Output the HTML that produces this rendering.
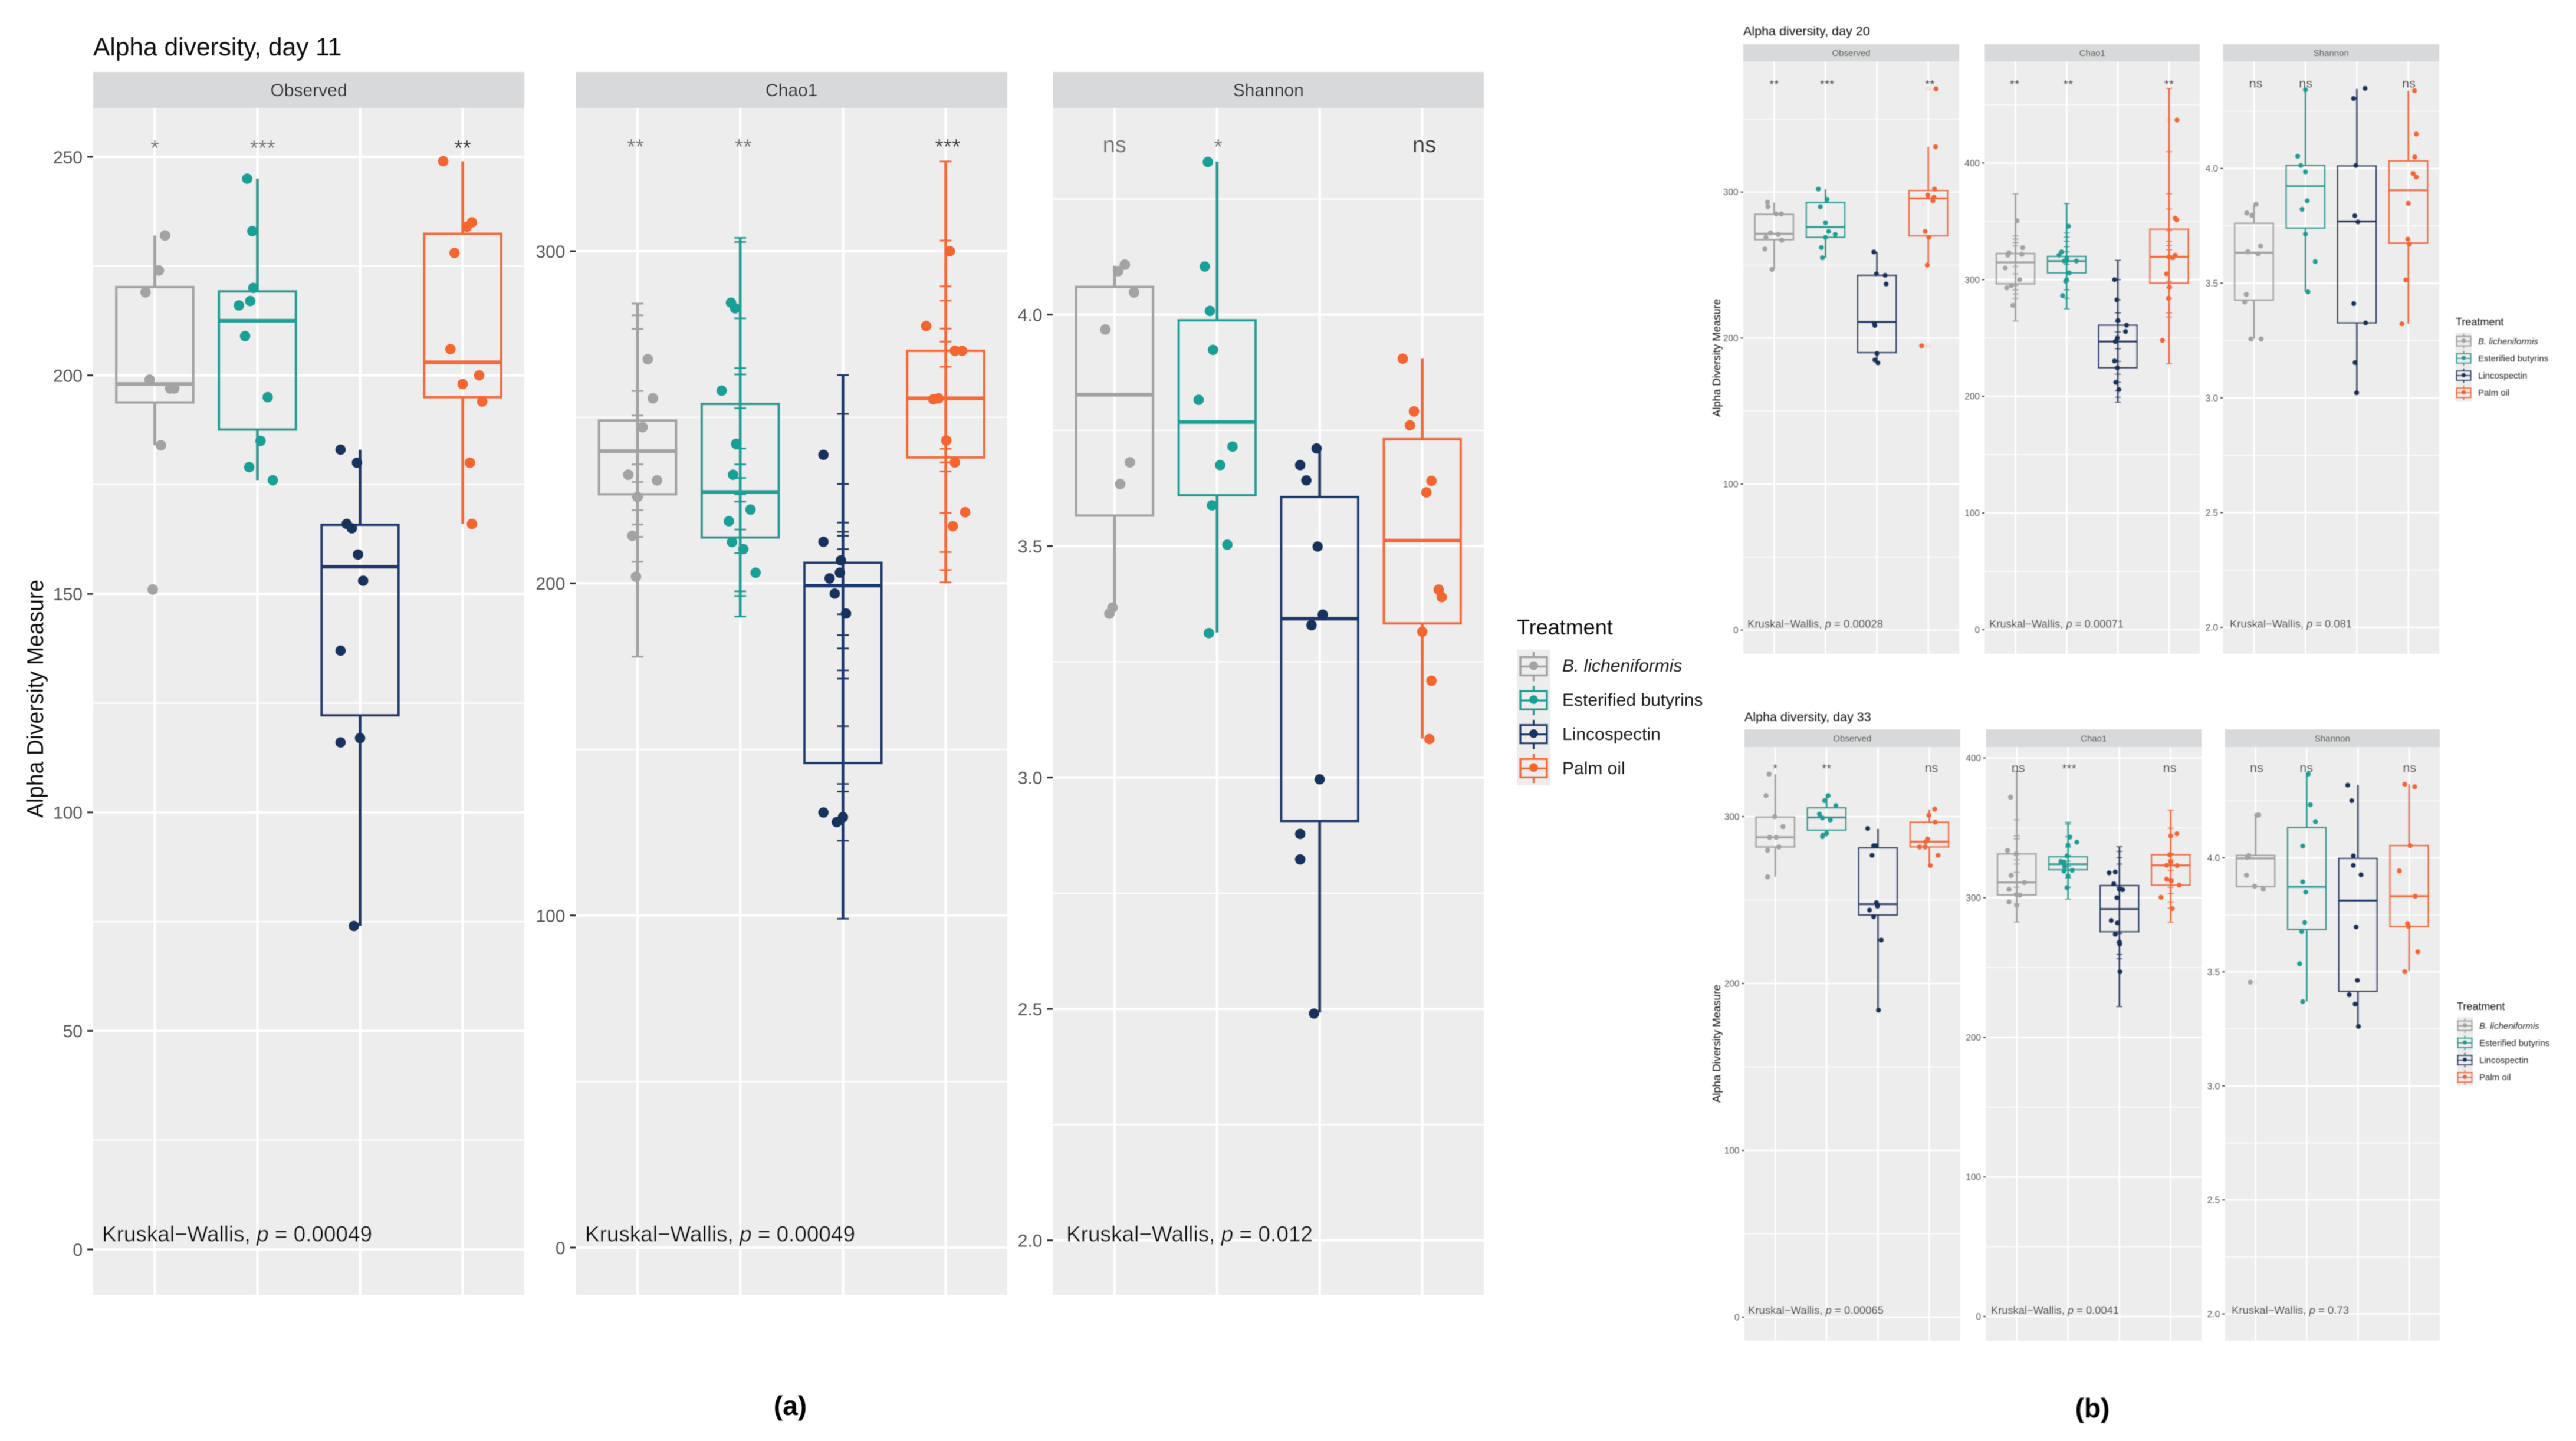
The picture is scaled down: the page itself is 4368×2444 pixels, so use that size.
<!DOCTYPE html>
<html lang="en">
<head>
<meta charset="utf-8">
<title>Alpha diversity boxplots, days 11, 20 and 33</title>
<style>
html,body{margin:0;padding:0;background:#fff;}
svg{display:block;}
text{font-family:"Liberation Sans",sans-serif;}
</style>
</head>
<body>
<svg id="chart" xmlns="http://www.w3.org/2000/svg" width="4368" height="2444" viewBox="0 0 4368 2444">
  <defs>
    <filter id="soft-a" filterUnits="userSpaceOnUse" x="0" y="0" width="2900" height="2444"><feGaussianBlur stdDeviation="0.6"/></filter>
    <filter id="soft-b" filterUnits="userSpaceOnUse" x="2850" y="0" width="1518" height="2444"><feGaussianBlur stdDeviation="0.8"/></filter>
  </defs>
  <rect x="0" y="0" width="4368" height="2444" fill="#ffffff"/>
  <g id="fig-a" filter="url(#soft-a)">
    <text x="158" y="94" font-size="42.5" fill="#111">Alpha diversity, day 11</text>
    <text transform="translate(73,1185) rotate(-90)" text-anchor="middle" font-size="39" textLength="404" lengthAdjust="spacingAndGlyphs" fill="#111">Alpha Diversity Measure</text>
    <text x="2572" y="1076" font-size="36" fill="#111">Treatment</text>
    <text x="2649" y="1139" font-size="30" font-style="italic" fill="#1a1a1a">B. licheniformis</text>
    <text x="2649" y="1197" font-size="30" fill="#1a1a1a">Esterified butyrins</text>
    <text x="2649" y="1255" font-size="30" fill="#1a1a1a">Lincospectin</text>
    <text x="2649" y="1313" font-size="30" fill="#1a1a1a">Palm oil</text>
    <text x="1340" y="2400" text-anchor="middle" font-size="46" font-weight="bold" fill="#000">(a)</text>
  </g>
  <g id="fig-b" filter="url(#soft-b)">
    <text x="2956" y="60" font-size="21.5" fill="#111">Alpha diversity, day 20</text>
    <text x="2958" y="1223" font-size="21.5" fill="#111">Alpha diversity, day 33</text>
    <text transform="translate(2917,607) rotate(-90)" text-anchor="middle" font-size="18" textLength="200" lengthAdjust="spacingAndGlyphs" fill="#111">Alpha Diversity Measure</text>
    <text transform="translate(2917,1770) rotate(-90)" text-anchor="middle" font-size="18" textLength="200" lengthAdjust="spacingAndGlyphs" fill="#111">Alpha Diversity Measure</text>
    <text x="4164" y="552" font-size="18" fill="#111">Treatment</text>
    <text x="4202" y="584" font-size="15" font-style="italic" fill="#222">B. licheniformis</text>
    <text x="4202" y="613" font-size="15" fill="#222">Esterified butyrins</text>
    <text x="4202" y="642" font-size="15" fill="#222">Lincospectin</text>
    <text x="4202" y="671" font-size="15" fill="#222">Palm oil</text>
    <text x="4166" y="1713" font-size="18" fill="#111">Treatment</text>
    <text x="4204" y="1745" font-size="15" font-style="italic" fill="#222">B. licheniformis</text>
    <text x="4204" y="1774" font-size="15" fill="#222">Esterified butyrins</text>
    <text x="4204" y="1803" font-size="15" fill="#222">Lincospectin</text>
    <text x="4204" y="1832" font-size="15" fill="#222">Palm oil</text>
    <text x="3548" y="2404" text-anchor="middle" font-size="46" font-weight="bold" fill="#000">(b)</text>
  </g>
</svg>
<script>
// ---------- shared values ----------
const categories = ['B. licheniformis', 'Esterified butyrins', 'Lincospectin', 'Palm oil'];
const categorySlugs = ['b-licheniformis', 'esterified-butyrins', 'lincospectin', 'palm-oil'];
const seriesColors = ['#a3a3a3', '#1ba098', '#1c3a70', '#f56a35'];
const dotColors = ['#a3a3a3', '#17a098', '#12305f', '#f5652e'];
const metrics = ['Observed', 'Chao1', 'Shannon'];

// ---------- tick labels ----------
const d11ObsTicks = ['0', '50', '100', '150', '200', '250'];
const d11ChaoTicks = ['0', '100', '200', '300'];
const shannonTicks = ['2.0', '2.5', '3.0', '3.5', '4.0'];
const d20ObsTicks = ['0', '100', '200', '300'];
const d20ChaoTicks = ['0', '100', '200', '300', '400'];
const d33ObsTicks = ['0', '100', '200', '300'];
const d33ChaoTicks = ['0', '100', '200', '300', '400'];

// ---------- day 11 ----------  box rows: low whisker, q1, median, q3, high whisker
const d11ObsBox = [[184,193.8,198,220.2,232],[176,187.6,212.5,219.2,245],[74,122.2,156.2,165.8,183],[166,195,203,232.4,249]];
const d11ObsVals = [[232,224,219,199,197,197,184,151],[245,233,220,217,216,209,195,185,179,176],[183,180,166,165,159,153,137,117,116,74],[249,235,234,228,206,200,198,194,180,166]];
const d11ObsJit = [[.1,.04,-.09,-.05,.15,.19,.06,-.02],[-.1,-.05,-.04,-.07,-.18,-.12,.1,.03,-.08,.15],[-.19,-.03,-.13,-.08,-.02,.03,-.19,0,-.19,-.06],[-.19,.09,.04,-.08,-.12,.16,0,.19,.07,.09]];
const d11ObsSig = ['*','***','','**'];
const d11ObsShift = [0,.05,0,0];

const d11ChaoBox = [[177.9,226.8,239.8,249,284.2],[190,213.8,227.5,254,304],[99,145.9,199.3,206.2,262.7],[200.3,237.9,255.7,270,327]];
const d11ChaoVals = [[267.5,255.7,247,232.7,231,226,214.3,202],[284.5,282.8,258,242,232.7,222.2,218.7,212.4,210.3,203.2],[238.7,212.5,206.9,203.2,201.5,196.9,190.9,131,129.6,128.1],[300,277.5,270,270,255.4,255.7,243,236.4,221.4,217.2]];
const d11ChaoJit = [[.1,.15,.05,-.09,.19,0,-.05,-.015],[-.09,-.05,-.18,-.04,-.07,.1,-.11,-.08,.03,.15],[-.19,-.19,-.02,-.03,-.13,-.08,.03,-.19,0,-.06],[.04,-.19,.09,.16,-.12,-.07,.006,.09,.19,.07]];
const d11ChaoErr = [[284.2,280.7,276.6,257.9,250.5,235.8,230.5,226,222,217.7,214,206.5,177.9],[304,302.8,279.8,264.8,262.9,252.7,240.6,235.8,231.7,226.8,224.6,216.2,209.1,197.6,196.2,190],[262.7,251,229.9,218.3,215.5,214.3,210.3,190.7,184.4,180.4,173.8,171.3,157,139.6,137.3,122.5,99],[327,303.2,289.4,285.1,276.7,272.8,270,265.2,240.5,236.4,233.7,221.2,209.4,204,200.3]];
const d11ChaoSig = ['**','**','','***'];
const d11ChaoShift = [-.02,.03,0,.02];

const d11ShanBox = [[3.358,3.566,3.827,4.06,4.106],[3.313,3.61,3.768,3.988,4.331],[2.492,2.906,3.343,3.606,3.711],[3.084,3.333,3.512,3.731,3.905]];
const d11ShanVals = [[4.108,4.094,4.048,3.968,3.681,3.634,3.367,3.354],[4.33,4.104,4.008,3.924,3.816,3.715,3.675,3.588,3.503,3.312],[3.711,3.675,3.642,3.499,3.352,3.329,2.996,2.878,2.823,2.49],[3.905,3.791,3.761,3.641,3.616,3.406,3.39,3.315,3.209,3.083]];
const d11ShanJit = [[.1,.035,.19,-.09,.15,.055,-.02,-.05],[-.09,-.12,-.07,-.04,-.18,.15,.03,-.05,.1,-.08],[-.03,-.19,-.13,-.02,.03,-.08,0,-.19,-.19,-.055],[-.19,-.08,-.12,.09,.04,.16,.19,0,.09,.07]];
const d11ShanSig = ['ns','*','','ns'];
const d11ShanShift = [0,.01,0,.02];

// ---------- day 20 ----------
const d20ObsBox = [[247.2,267.4,271.4,284.7,292.8],[255,269,276,292.8,302],[183,190,211,243,259],[250,270,295.7,301,331]];
const d20ObsVals = [[293,290,285,285,272,271,269,267,261,247],[302,295,290,279,273,271,269,262,255],[259,244,243,237,210,208.6,189.5,185,183],[370.7,331,302,298,296.5,294,273,269,250,194.7]];
const d20ObsJit = [[-.13,-.12,.04,.14,-.07,.08,-.16,.15,-.18,-.04],[-.14,.03,-.1,0,.06,.19,0,-.08,-.06],[-.06,-.01,.16,.18,-.05,-.04,0,-.04,.02],[.15,.14,.12,-.01,.11,.09,-.06,.01,-.02,-.13]];
const d20ObsOut = [[],[],[],[370.7,194.7]];
const d20ObsSig = ['**','***','','**'];
const d20ObsShift = [0,.03,0,.03];

const d20ChaoBox = [[264.6,296.4,314.8,322.4,373.6],[275,305.8,315.9,319.9,365.3],[195,224.5,247,261,316.6],[228,297,319.5,343.3,463.9]];
const d20ChaoVals = [[350.5,327.4,323,321,321.7,310,300,295,293,278],[345.8,323.8,321,318,316,316,316,305.8,300,298.6,286.3],[300,282.7,265,261,255.6,250,247,230.3,224.5,212,205.8],[436.8,352.7,351.3,321,318.8,319.5,305,293.5,284,248]];
const d20ChaoJit = [[.03,.14,-.13,-.15,.125,-.2,.08,-.08,-.17,-.05],[.035,-.1,-.15,0,0,-.05,.19,.05,0,-.02,-.08],[-.065,-.02,0,.17,.15,-.01,-.05,-.065,-.01,-.04,.02],[.155,.12,.15,.12,.07,0,-.05,.01,-.01,-.13]];
const d20ChaoErr = [[373.6,337.5,334.7,331.8,328.9,322.4,311.2,305,295,291.3,287.7,284,264.6],[365.3,340,336.5,332.9,328.2,323.8,316.6,313,305.8,298.6,291.3,284.1,275],[316.6,300,282.7,271.5,264.3,255.2,246.9,240.8,230,219,212,204.7,199.3,195],[463.9,409.7,373.6,360.6,341.9,332.9,329.2,325.6,298.6,293,284,271.5,267.9,228]];
const d20ChaoOut = [[],[],[],[436.8]];
const d20ChaoSig = ['**','**','','**'];
const d20ChaoShift = [-.02,.03,0,0];

const d20ShanBox = [[3.257,3.426,3.633,3.761,3.844],[3.462,3.74,3.923,4.013,4.343],[3.022,3.327,3.769,4.011,4.347],[3.323,3.675,3.905,4.033,4.339]];
const d20ShanVals = [[3.844,3.806,3.796,3.662,3.637,3.628,3.451,3.418,3.257,3.257],[4.343,4.053,4.013,3.985,3.859,3.822,3.714,3.594,3.462],[4.349,4.305,4.013,3.794,3.767,3.411,3.327,3.154,3.022],[4.339,4.15,4.05,3.978,3.963,3.848,3.692,3.67,3.514,3.323]];
const d20ShanJit = [[.04,-.14,-.04,.13,-.12,.08,-.15,-.18,-.06,.14],[0,-.15,-.09,0,.035,-.065,0,.19,.05],[.16,-.065,-.02,-.04,.02,-.06,.17,-.035,-.005],[.12,.155,.125,.095,.155,0,-.01,.02,-.05,-.125]];
const d20ShanSig = ['ns','ns','','ns'];
const d20ShanShift = [.035,.005,0,.01];

// ---------- day 33 ----------
const d33ObsBox = [[264,281.8,287.6,299.7,325.5],[288,291.9,299.5,305.3,312.6],[184,241,247.5,281.3,292.7],[270.7,281.8,285,296.7,304.3]];
const d33ObsVals = [[325.5,312.6,300,294,287.6,287.6,279.8,281.8,263.9],[312.6,309.6,306.6,301.5,299.2,298,290,289,288],[292.9,282.6,282.6,276.8,248.5,246.3,244,240,226,184],[304.5,300.8,296.7,286.6,284.9,281.8,281.8,276.8,270.7]];
const d33ObsJit = [[-.12,-.18,-.01,.15,-.11,.02,-.15,.07,-.15],[.03,-.04,.18,-.14,-.08,.07,0,-.07,-.08],[-.2,-.085,-.04,-.115,-.03,-.01,-.165,-.085,.065,.01],[.105,-.01,.115,-.035,-.07,-.19,-.08,.17,.02]];
const d33ObsSig = ['*','**','','ns'];
const d33ObsShift = [0,0,0,.04];

const d33ChaoBox = [[282.5,302,310.9,331.4,390.5],[299,320,324,329.3,354],[222,275.6,291.9,308.7,336.5],[282.5,309,323.2,330.8,362.7]];
const d33ChaoVals = [[372,333.8,331.4,316,310.9,306,302,301.8,297,294.6],[343.4,339.8,337.7,330,326,325.6,322,319.6,319,315.7,307.2],[317.8,318.4,310,306,305.7,300,283.7,282,273.8,268.3,266.8,246.9],[345.8,344.3,330.8,325.6,323.2,323,313.3,312,309,300.3,292.2]];
const d33ChaoJit = [[-.12,-.18,-.01,-.11,.15,-.15,0,.06,-.15,0],[.035,.17,0,-.02,-.14,-.08,-.07,.08,-.08,0,-.02],[-.2,-.08,-.11,0,.065,-.05,-.16,-.04,-.08,0,.005,.01],[.12,0,-.02,0,-.08,.125,-.08,.01,.165,-.19,.03]];
const d33ChaoErr = [[390.5,355.8,344.3,342.2,331,327.1,324.1,318.1,310.6,307.5,303,295.5,282.5],[354,352.8,343.7,336.2,330.2,326.2,322.6,319.6,314.2,307.5,299],[336.5,333.2,328.6,324.1,307.5,274.4,267.7,259.3,256.3,222],[362.7,349.8,331.7,327.1,319.6,313.6,307.5,303,297,292.5,282.5]];
const d33ChaoSig = ['ns','***','','ns'];
const d33ChaoShift = [.03,.02,0,-.02];

const d33ShanBox = [[3.874,3.874,3.998,4.011,4.188],[3.37,3.686,3.873,4.133,4.367],[3.261,3.415,3.813,3.998,4.32],[3.503,3.699,3.832,4.054,4.323]];
const d33ShanVals = [[4.187,4.188,4.011,4.002,3.924,3.876,3.863,3.455],[4.367,4.233,4.159,4.052,3.895,3.85,3.717,3.677,3.536,3.37],[4.319,4.251,4.009,3.967,3.926,3.697,3.463,3.4,3.359,3.261],[4.323,4.312,4.054,3.943,3.832,3.712,3.699,3.588,3.501]];
const d33ShanJit = [[.025,.06,-.135,-.16,-.18,-.02,.15,-.105],[.03,.07,.17,-.08,-.08,-.02,-.04,-.1,-.14,-.08],[-.2,-.12,-.09,-.09,.06,-.035,-.01,-.17,-.055,.01],[-.085,.11,.02,-.19,.12,-.03,-.01,.17,-.085]];
const d33ShanOut = [[3.455],[],[],[]];
const d33ShanSig = ['ns','ns','','ns'];
const d33ShanShift = [.02,-.01,0,.01];

// ---------- printed p values ----------
const pValues = ['0.00049','0.00049','0.012','0.00028','0.00071','0.081','0.00065','0.0041','0.73'];

// ---------- render styles ----------
const bigStyle = {tick:30,strip:30,kw:37,sig:37,gridMajor:4.2,gridMinor:2.2,box:4.2,median:6.5,whisker:5,err:3.2,errHalf:10,dot:9,tickLen:10,tickW:3,labelGap:8};
const smallStyle = {tick:15.4,strip:15,kw:18.5,sig:21,gridMajor:2.6,gridMinor:1.4,box:2.6,median:3.6,whisker:3,err:1.9,errHalf:5.2,dot:4.4,tickLen:4.5,tickW:1.8,labelGap:4};

// ---------- panel layouts (frames and axis calibration) ----------
const panels = [
  {id:'day-11-observed',g:'fig-a',s:bigStyle,m:0,x:[158,889],yy:[122,183,2196],cal:[0,2119,250,266],ticks:d11ObsTicks,box:d11ObsBox,vals:d11ObsVals,jit:d11ObsJit,sig:d11ObsSig,shift:d11ObsShift,sigY:243,nsY:248,sigCol:['#777','#777','#777','#333'],p:0,kw:[173,2092,458]},
  {id:'day-11-chao1',g:'fig-a',s:bigStyle,m:1,x:[976.5,1708],yy:[122,183,2196],cal:[0,2116,300,426],ticks:d11ChaoTicks,box:d11ChaoBox,vals:d11ChaoVals,jit:d11ChaoJit,err:d11ChaoErr,sig:d11ChaoSig,shift:d11ChaoShift,sigY:241,nsY:248,sigCol:['#777','#777','#777','#333'],p:1,kw:[992,2092,458]},
  {id:'day-11-shannon',g:'fig-a',s:bigStyle,m:2,x:[1785.5,2516],yy:[122,183,2196],cal:[2,2103.6,4,533.7],ticks:shannonTicks,box:d11ShanBox,vals:d11ShanVals,jit:d11ShanJit,sig:d11ShanSig,shift:d11ShanShift,sigY:241,nsY:248,sigCol:['#777','#777','#777','#333'],p:2,kw:[1808,2092,418]},
  {id:'day-20-observed',g:'fig-b',s:smallStyle,m:0,x:[2956,3322],yy:[75,104,1109],cal:[0,1068.6,300,325.7],ticks:d20ObsTicks,box:d20ObsBox,vals:d20ObsVals,jit:d20ObsJit,out:d20ObsOut,sig:d20ObsSig,shift:d20ObsShift,sigY:138,nsY:143,sigCol:['#222','#222','#222','#222'],p:3,kw:[2963,1058,230]},
  {id:'day-20-chao1',g:'fig-b',s:smallStyle,m:1,x:[3365.5,3730],yy:[75,104,1109],cal:[0,1068,400,276.4],ticks:d20ChaoTicks,box:d20ChaoBox,vals:d20ChaoVals,jit:d20ChaoJit,err:d20ChaoErr,out:d20ChaoOut,sig:d20ChaoSig,shift:d20ChaoShift,sigY:138,nsY:143,sigCol:['#222','#222','#222','#222'],p:4,kw:[3373,1058,228]},
  {id:'day-20-shannon',g:'fig-b',s:smallStyle,m:2,x:[3769.6,4136],yy:[75,104,1109],cal:[2,1064,4,285.7],ticks:shannonTicks,box:d20ShanBox,vals:d20ShanVals,jit:d20ShanJit,sig:d20ShanSig,shift:d20ShanShift,sigY:138,nsY:143,sigCol:['#222','#222','#222','#222'],p:5,kw:[3781,1058,207]},
  {id:'day-33-observed',g:'fig-b',s:smallStyle,m:0,x:[2958,3323.7],yy:[1237,1267,2274],cal:[0,2234,300,1385],ticks:d33ObsTicks,box:d33ObsBox,vals:d33ObsVals,jit:d33ObsJit,sig:d33ObsSig,shift:d33ObsShift,sigY:1298.6,nsY:1304,sigCol:['#222','#222','#222','#222'],p:6,kw:[2964,2222,230]},
  {id:'day-33-chao1',g:'fig-b',s:smallStyle,m:1,x:[3367.5,3733],yy:[1237,1267,2274],cal:[0,2233,400,1285.7],ticks:d33ChaoTicks,box:d33ChaoBox,vals:d33ChaoVals,jit:d33ChaoJit,err:d33ChaoErr,sig:d33ChaoSig,shift:d33ChaoShift,sigY:1298.6,nsY:1304,sigCol:['#222','#222','#222','#222'],p:7,kw:[3376,2222,217]},
  {id:'day-33-shannon',g:'fig-b',s:smallStyle,m:2,x:[3772.7,4137],yy:[1237,1267,2274],cal:[2,2228.6,4,1455],ticks:shannonTicks,box:d33ShanBox,vals:d33ShanVals,jit:d33ShanJit,out:d33ShanOut,sig:d33ShanSig,shift:d33ShanShift,sigY:1298.6,nsY:1304,sigCol:['#222','#222','#222','#222'],p:8,kw:[3784,2222,199]}
];
const legends = [
  {id:'legend-a',g:'fig-a',x:2572,w:57,top:1101.7,row:57.6,boxHalfW:22.5,boxUp:16,boxDown:15,whisk:25,dot:7.5,lw:3.6,wl:3.4},
  {id:'legend-day-20',g:'fig-b',x:4164,w:27,top:564,row:29.2,boxHalfW:12,boxUp:8,boxDown:8,whisk:12.5,dot:3.8,lw:2.2,wl:2.2},
  {id:'legend-day-33',g:'fig-b',x:4166,w:27,top:1725,row:29.2,boxHalfW:12,boxUp:8,boxDown:8,whisk:12.5,dot:3.8,lw:2.2,wl:2.2}
];

// ---------- drawing ----------
const SVG_NS = 'http://www.w3.org/2000/svg';
function mk(tag, attrs, parent) {
  const el = document.createElementNS(SVG_NS, tag);
  for (const k in attrs) el.setAttribute(k, attrs[k]);
  parent.appendChild(el);
  return el;
}
function xAxis(p) {
  const unit = (p.x[1] - p.x[0]) / 4.2;
  return pos => p.x[0] + (0.6 + pos) * unit;
}
function yAxis(p) {
  const c = p.cal;
  const k = (c[3] - c[1]) / (c[2] - c[0]);
  return v => c[1] + (v - c[0]) * k;
}

panels.forEach(function (p) {
  const root = document.getElementById(p.g);
  const s = p.s, X = xAxis(p), Y = yAxis(p);
  const unit = (p.x[1] - p.x[0]) / 4.2;
  const top = p.yy[1], bottom = p.yy[2], left = p.x[0], right = p.x[1];

  const g = mk('g', {}, root);
  
  

  const bg = mk('rect', {x:left, y:top, width:right-left, height:bottom-top, fill:'#ecedec'}, g);
  
  

  const strip = mk('rect', {x:left, y:p.yy[0], width:right-left, height:p.yy[1]-p.yy[0], fill:'#d8d9da'}, g);
  
  

  const stripLabel = mk('text', {x:(left+right)/2, y:(p.yy[0]+p.yy[1])/2 + s.strip*0.35, 'text-anchor':'middle', 'font-size':s.strip, fill:'#2b2b2b'}, g);
  stripLabel.textContent = metrics[p.m];
  
  

  // minor gridlines halfway between tick values
  const tickVals = p.ticks.map(parseFloat);
  const step = tickVals[1] - tickVals[0];
  for (let v = tickVals[0] - step/2; v <= tickVals[tickVals.length-1] + step/2 + 1e-6; v += step) {
    const py = Y(v);
    if (py <= top || py >= bottom) continue;
    const minor = mk('line', {x1:left, x2:right, y1:py, y2:py, stroke:'#fff', 'stroke-width':s.gridMinor}, g);
    
    
  }
  p.ticks.forEach(function (label) {
    const py = Y(parseFloat(label));
    const major = mk('line', {x1:left, x2:right, y1:py, y2:py, stroke:'#fff', 'stroke-width':s.gridMajor}, g);
    
    
    const tick = mk('line', {x1:left-s.tickLen, x2:left, y1:py, y2:py, stroke:'#333', 'stroke-width':s.tickW}, g);
    
    
    const tl = mk('text', {x:left-s.tickLen-s.labelGap, y:py+s.tick*0.36, 'text-anchor':'end', 'font-size':s.tick, fill:'#555'}, g);
    tl.textContent = label;
    
    
  });
  categories.forEach(function (c, i) {
    const vg = mk('line', {x1:X(i), x2:X(i), y1:top, y2:bottom, stroke:'#fff', 'stroke-width':s.gridMajor}, g);
    
    
  });

  categories.forEach(function (c, i) {
    const color = seriesColors[i];
    const cx = X(i);
    const [lo, q1, med, q3, hi] = p.box[i];
    const halfW = unit * 0.375;
    const sg = mk('g', {}, g);
    
    

    const upper = mk('line', {x1:cx, x2:cx, y1:Y(hi), y2:Y(q3), stroke:color, 'stroke-width':s.whisker}, sg);
    
    
    const lower = mk('line', {x1:cx, x2:cx, y1:Y(q1), y2:Y(lo), stroke:color, 'stroke-width':s.whisker}, sg);
    
    

    if (p.err) {
      const mid = mk('line', {x1:cx, x2:cx, y1:Y(q3), y2:Y(q1), stroke:color, 'stroke-width':s.whisker}, sg);
      
      
      p.err[i].forEach(function (v) {
        const cap = mk('line', {x1:cx-s.errHalf, x2:cx+s.errHalf, y1:Y(v), y2:Y(v), stroke:color, 'stroke-width':s.err}, sg);
        
        
      });
    }

    const box = mk('rect', {x:cx-halfW, y:Y(q3), width:2*halfW, height:Y(q1)-Y(q3), fill:'none', stroke:color, 'stroke-width':s.box}, sg);
    
    
    const medLine = mk('line', {x1:cx-halfW, x2:cx+halfW, y1:Y(med), y2:Y(med), stroke:color, 'stroke-width':s.median}, sg);
    
    

    if (p.out) {
      p.out[i].forEach(function (v) {
        const o = mk('circle', {cx:cx, cy:Y(v), r:s.dot, fill:color, opacity:0.12}, sg);
        
        
      });
    }
    p.vals[i].forEach(function (v, j) {
      const pt = mk('circle', {cx:X(i + p.jit[i][j]), cy:Y(v), r:s.dot, fill:dotColors[i]}, sg);
      
      
    });

    const label = p.sig[i];
    if (label) {
      const isNs = label === 'ns';
      const fs = isNs ? s.sig * 1.03 : s.sig;
      const py = isNs ? p.nsY + fs*0.26 : p.sigY + fs*0.56;
      const st = mk('text', {x:X(i + p.shift[i]), y:py, 'text-anchor':'middle', 'font-size':fs, fill:p.sigCol[i]}, g);
      st.textContent = label;
      
      
    }
  });

  const kw = mk('text', {x:p.kw[0], y:p.kw[1] + s.kw*0.36, 'font-size':s.kw, fill:'#111', textLength:p.kw[2], lengthAdjust:'spacingAndGlyphs'}, g);
  
  
  kw.appendChild(document.createTextNode('Kruskal\u2212Wallis, '));
  const pi = mk('tspan', {'font-style':'italic'}, kw);
  pi.textContent = 'p';
  kw.appendChild(document.createTextNode(' = ' + pValues[p.p]));
});

legends.forEach(function (l) {
  const root = document.getElementById(l.g);
  const g = mk('g', {}, root);
  
  
  const bg = mk('rect', {x:l.x, y:l.top, width:l.w, height:l.row*4, fill:'#ecedec'}, g);
  
  
  categories.forEach(function (c, i) {
    const cx = l.x + l.w/2, cy = l.top + l.row*(i+0.5);
    const color = seriesColors[i];
    const stem = mk('line', {x1:cx, x2:cx, y1:cy-l.whisk, y2:cy+l.whisk, stroke:color, 'stroke-width':l.wl}, g);
    
    
    const box = mk('rect', {x:cx-l.boxHalfW, y:cy-l.boxUp, width:2*l.boxHalfW, height:l.boxUp+l.boxDown, fill:'#ecedec', stroke:color, 'stroke-width':l.lw}, g);
    
    
    const med = mk('line', {x1:cx-l.boxHalfW, x2:cx+l.boxHalfW, y1:cy, y2:cy, stroke:color, 'stroke-width':l.lw}, g);
    
    
    const dot = mk('circle', {cx:cx, cy:cy-l.dot*0.2, r:l.dot, fill:dotColors[i]}, g);
    
    
  });
});
</script>
</body>
</html>
